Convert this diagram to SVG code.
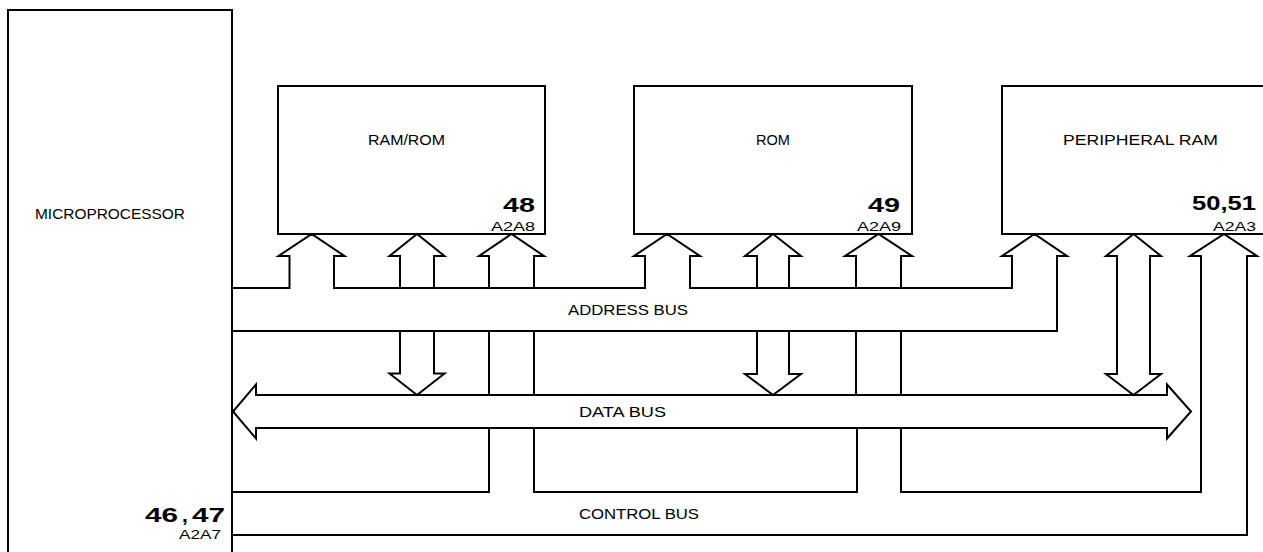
<svg xmlns="http://www.w3.org/2000/svg" width="1263" height="552" viewBox="0 0 1263 552">
<style>
.box{fill:#fff;stroke:#000;stroke-width:2}
.ln{fill:none;stroke:#000;stroke-width:2;stroke-linejoin:miter}
.lbl{font-family:"Liberation Sans",Arial,sans-serif;font-size:14.5px;fill:#000}
.num{font-family:"Liberation Sans",Arial,sans-serif;font-size:21px;font-weight:bold;fill:#000}
.ref{font-family:"Liberation Sans",Arial,sans-serif;font-size:13.5px;fill:#000}
</style>
<rect width="1263" height="552" fill="#fff"/>
<g id="microprocessor">
<rect class="box" x="8" y="10" width="224" height="560"/>
<text class="lbl" x="35" y="219" textLength="150" lengthAdjust="spacingAndGlyphs">MICROPROCESSOR</text>
<text class="num" y="522"><tspan x="145" textLength="33" lengthAdjust="spacingAndGlyphs">46</tspan><tspan x="182">,</tspan><tspan x="192" textLength="33" lengthAdjust="spacingAndGlyphs">47</tspan></text>
<text class="ref" x="179" y="539" textLength="42" lengthAdjust="spacingAndGlyphs">A2A7</text>
</g>
<g id="ram-rom">
<rect class="box" x="278" y="86" width="267" height="148"/>
<text class="lbl" x="368" y="145" textLength="77" lengthAdjust="spacingAndGlyphs">RAM/ROM</text>
<text class="num" x="503" y="212" textLength="32" lengthAdjust="spacingAndGlyphs">48</text>
<text class="ref" x="491" y="231" textLength="44" lengthAdjust="spacingAndGlyphs">A2A8</text>
</g>
<g id="rom">
<rect class="box" x="634" y="86" width="278" height="148"/>
<text class="lbl" x="756" y="145" textLength="34" lengthAdjust="spacingAndGlyphs">ROM</text>
<text class="num" x="868" y="212" textLength="32" lengthAdjust="spacingAndGlyphs">49</text>
<text class="ref" x="857" y="231" textLength="44" lengthAdjust="spacingAndGlyphs">A2A9</text>
</g>
<g id="peripheral-ram">
<rect class="box" x="1002" y="86" width="280" height="148"/>
<text class="lbl" x="1063" y="145" textLength="155" lengthAdjust="spacingAndGlyphs">PERIPHERAL RAM</text>
<text class="num" x="1192" y="210" textLength="64" lengthAdjust="spacingAndGlyphs">50,51</text>
<text class="ref" x="1213" y="231" textLength="43" lengthAdjust="spacingAndGlyphs">A2A3</text>
</g>
<g id="connectors">
<!-- address bus -->
<path class="ln" d="M232,288 H289.5 V256 H278.5 L311.7,234 L344.5,256 H334 V288 H645 V256 H634 L667,234 L700,256 H690 V288 H1012 V256 H1002 L1034.5,234 L1067,256 H1057 V331 H232"/>
<!-- RAM/ROM data arrows -->
<path class="ln" d="M400,288 V256 H389.5 L417,234 L444.5,256 H434 V288"/>
<path class="ln" d="M400,331 V373.5 H389.5 L417,395 L444.5,373.5 H434 V331"/>
<!-- ROM data arrows -->
<path class="ln" d="M757,288 V256 H745 L773,234 L801,256 H789 V288"/>
<path class="ln" d="M757,331 V374 H745 L773,395 L801,374 H789 V331"/>
<!-- peripheral data arrow -->
<path class="ln" d="M1117,256 H1106 L1133.5,234 L1161,256 H1150 V374 H1161 L1133.5,395 L1106,374 H1117 Z"/>
<!-- data bus -->
<path class="ln" d="M256,395 H1167 V384.5 L1191,411.5 L1167,438.5 V428 H256 V438.5 L233,411.5 L256,384.5 Z"/>
<!-- RAM/ROM control -->
<path class="ln" d="M489,288 V256 H479 L511.5,234 L544,256 H534 V288"/>
<path class="ln" d="M489,331 V395 M534,331 V395"/>
<!-- ROM control -->
<path class="ln" d="M856,288 V256 H845 L878.5,234 L912,256 H901 V288"/>
<path class="ln" d="M856,331 V395 M901,331 V395"/>
<!-- control bus -->
<path class="ln" d="M232,492 H489 V428"/>
<path class="ln" d="M534,428 V492 H857 V428"/>
<path class="ln" d="M901,428 V492 H1201 V256 H1190 L1224,234 L1257,256 H1247 V535 H232"/>
<text class="lbl" x="568" y="315" textLength="120" lengthAdjust="spacingAndGlyphs">ADDRESS BUS</text>
<text class="lbl" x="579" y="417" textLength="87" lengthAdjust="spacingAndGlyphs">DATA BUS</text>
<text class="lbl" x="579" y="519" textLength="120" lengthAdjust="spacingAndGlyphs">CONTROL BUS</text>
</g>
</svg>
